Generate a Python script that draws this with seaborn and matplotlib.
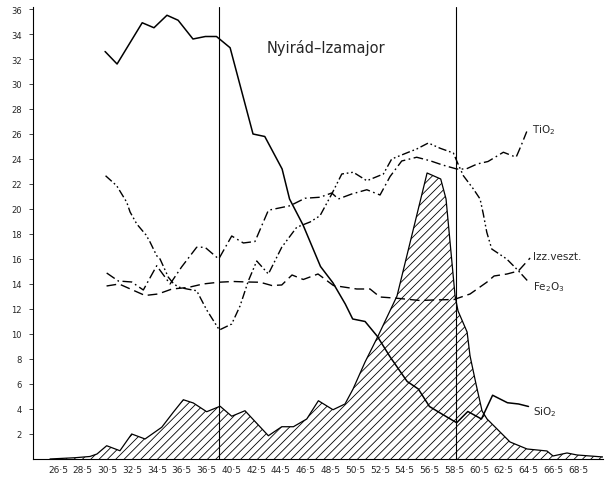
import matplotlib
matplotlib.use("Agg")
import matplotlib.pyplot as plt
import seaborn as sns

# ---- axis ticks ----
x_tick_pos = [26.5, 28.5, 30.5, 32.5, 34.5, 36.5, 38.5, 40.5, 42.5, 44.5, 46.5,
              48.5, 50.5, 52.5, 54.5, 56.5, 58.5, 60.5, 62.5, 64.5, 66.5, 68.5]
x_tick_labels = ["26·5", "28·5", "30·5", "32·5", "34·5", "36·5", "36·5", "40·5",
                 "42·5", "44·5", "46·5", "48·5", "50·5", "52·5", "54·5", "56·5",
                 "58·5", "60·5", "62·5", "64·5", "66·5", "68·5"]
y_ticks = list(range(2, 37, 2))
boundary_depths = [39.5, 58.65]

# ---- SiO2 (solid) ----
sio2_x = [30.3, 31.27, 33.3, 34.25, 35.3, 36.2, 37.4, 38.4, 39.3, 40.4, 42.25, 43.2,
          44.6, 45.2, 46.3, 47.7, 48.7, 49.7, 50.3, 51.3, 52.3, 53.3, 54.7, 55.6,
          56.5, 57.5, 58.7, 59.6, 60.7, 61.6, 62.8, 63.7, 64.5]
sio2_y = [32.6, 31.6, 34.9, 34.5, 35.5, 35.1, 33.6, 33.8, 33.8, 32.9, 26.0, 25.8,
          23.2, 20.8, 18.7, 15.4, 14.1, 12.4, 11.2, 11.0, 9.8, 8.2, 6.2, 5.6,
          4.2, 3.6, 2.9, 3.8, 3.2, 5.1, 4.5, 4.4, 4.2]

# ---- TiO2 (dash-dot) ----
tio2_x = [30.43, 31.37, 32.45, 33.39, 34.47, 35.55, 36.48, 37.7, 38.37, 39.48, 40.53,
          41.47, 42.41, 43.49, 45.24, 46.45, 47.66, 48.61, 49.14, 50.22, 51.44, 52.51,
          53.32, 54.26, 55.47, 56.55, 57.56, 58.7, 59.46, 60.35, 61.23, 62.47, 63.5,
          63.9, 64.36]
tio2_y = [14.88, 14.24, 14.16, 13.52, 15.46, 14.0, 15.36, 16.94, 16.94, 16.0, 17.84,
          17.28, 17.4, 19.9, 20.26, 20.86, 20.94, 21.28, 20.8, 21.2, 21.54, 21.12,
          22.6, 23.84, 24.14, 23.86, 23.52, 23.2, 23.2, 23.6, 23.8, 24.54, 24.14,
          25.06, 26.2]

# ---- Fe2O3 (dash-dot-dot) ----
fe2o3_x = [30.34, 31.24, 32.05, 32.32, 32.86, 33.61, 33.93, 34.47, 34.74, 35.41, 35.79,
           36.19, 36.92, 37.7, 38.51, 39.53, 40.53, 41.2, 41.87, 42.55, 43.49, 44.57,
           45.78, 46.86, 47.66, 48.61, 49.42, 50.35, 51.44, 52.78, 53.45, 54.8, 55.47,
           56.41, 57.36, 58.43, 58.81, 59.24, 60.05, 60.59, 60.85, 61.13, 61.53, 62.74,
           63.68, 64.49]
fe2o3_y = [22.66, 21.86, 20.54, 19.76, 18.8, 17.92, 17.36, 16.26, 16.0, 14.54, 14.08,
           13.76, 13.6, 13.46, 11.92, 10.32, 10.8, 12.24, 14.24, 15.84, 14.8, 16.94,
           18.54, 18.96, 19.46, 21.2, 22.8, 22.94, 22.26, 22.8, 24.0, 24.54, 24.8,
           25.28, 24.86, 24.48, 23.6, 22.66, 21.6, 20.8, 19.6, 18.14, 16.8, 16.0,
           15.06, 14.18]

# ---- Izz. veszt. (dashed) ----
izz_x = [30.42, 31.43, 33.53, 34.58, 35.71, 37.0, 38.21, 39.46, 40.66, 41.77, 42.82,
         43.76, 44.57, 45.4, 46.31, 47.5, 48.74, 50.63, 51.7, 52.5, 53.86, 55.74,
         56.79, 58.49, 59.78, 61.13, 61.72, 62.77, 63.68, 64.63]
izz_y = [13.84, 14.0, 13.08, 13.2, 13.6, 13.72, 14.0, 14.14, 14.2, 14.16, 14.14,
         13.88, 13.92, 14.72, 14.36, 14.8, 13.88, 13.6, 13.6, 12.96, 12.86, 12.68,
         12.72, 12.76, 13.2, 14.14, 14.64, 14.8, 15.04, 16.08]

# ---- hatched area ----
hatch_x = [25.85, 27.87, 29.08, 29.65, 30.43, 31.5, 32.45, 33.53, 34.88, 35.81, 36.62,
           37.43, 38.51, 39.59, 40.53, 41.6, 43.49, 44.57, 45.51, 46.59, 47.53, 48.71,
           49.68, 50.33, 51.3, 52.35, 53.88, 56.31, 57.41, 57.84, 58.57, 58.81, 59.54,
           59.78, 60.26, 60.75, 61.15, 61.96, 63.01, 64.38, 65.99, 66.48, 67.61, 68.42,
           70.52]
hatch_y = [0.0, 0.1, 0.2, 0.4, 1.06, 0.66, 2.0, 1.6, 2.54, 3.74, 4.74,
           4.48, 3.78, 4.22, 3.42, 3.86, 1.86, 2.58, 2.58, 3.2, 4.66, 3.94,
           4.4, 5.6, 7.76, 9.84, 13.04, 22.88, 22.4, 20.8, 13.04, 11.84, 10.16,
           8.24, 6.0, 3.84, 3.2, 2.4, 1.36, 0.8, 0.64, 0.24, 0.48, 0.32,
           0.16]

title_text = "Nyirád–Izamajor"
series_labels = ["TiO$_2$", "Izz.veszt.", "Fe$_2$O$_3$", "SiO$_2$"]

sns.set_style("ticks")
plt.rcParams["font.family"] = ["DejaVu Sans"]
plt.rcParams["hatch.linewidth"] = 0.6
plt.rcParams["hatch.color"] = "black"

fig = plt.figure(figsize=(6.09, 4.81), dpi=100)
ax = fig.add_axes([0.0542, 0.0437, 0.936, 0.9407])

ax.fill_between(hatch_x, hatch_y, 0, facecolor="white", edgecolor="black",
                hatch="////", linewidth=0)
sns.lineplot(x=hatch_x, y=hatch_y, ax=ax, color="black", lw=0.9, estimator=None, sort=False)

sns.lineplot(x=sio2_x, y=sio2_y, ax=ax, color="black", lw=1.1, estimator=None, sort=False)
sns.lineplot(x=tio2_x, y=tio2_y, ax=ax, color="black", lw=1.0, estimator=None, sort=False)
ax.lines[-1].set_linestyle((0, (7, 2.5, 1.2, 2.5)))
sns.lineplot(x=fe2o3_x, y=fe2o3_y, ax=ax, color="black", lw=1.0, estimator=None, sort=False)
ax.lines[-1].set_linestyle((0, (6, 2, 1.2, 2, 1.2, 2)))
sns.lineplot(x=izz_x, y=izz_y, ax=ax, color="black", lw=1.0, estimator=None, sort=False)
ax.lines[-1].set_linestyle((0, (7, 3.5)))

for d in boundary_depths:
    ax.axvline(d, color="black", lw=0.8)

ax.set_xlim(24.48, 70.52)
ax.set_ylim(0, 36.2)
ax.set_xticks(x_tick_pos)
ax.set_xticklabels(x_tick_labels, fontsize=6.5)
ax.set_yticks(y_ticks)
ax.set_yticklabels([str(v) for v in y_ticks], fontsize=6)
ax.tick_params(axis="x", length=0, pad=4)
ax.tick_params(axis="y", length=3, width=0.6, pad=5, direction="out")
for s in ["top", "right"]:
    ax.spines[s].set_visible(False)
for s in ["left", "bottom"]:
    ax.spines[s].set_linewidth(0.8)
    ax.spines[s].set_color("black")

ax.text(43.38, 33.0, title_text, fontsize=10.5, va="center", ha="left")
ax.text(64.75, 26.4, series_labels[0], fontsize=7.5, va="center", ha="left")
ax.text(64.87, 16.2, series_labels[1], fontsize=7.5, va="center", ha="left")
ax.text(64.87, 13.84, series_labels[2], fontsize=7.5, va="center", ha="left")
ax.text(64.87, 3.84, series_labels[3], fontsize=7.5, va="center", ha="left")

fig.savefig("out.png", dpi=100)
